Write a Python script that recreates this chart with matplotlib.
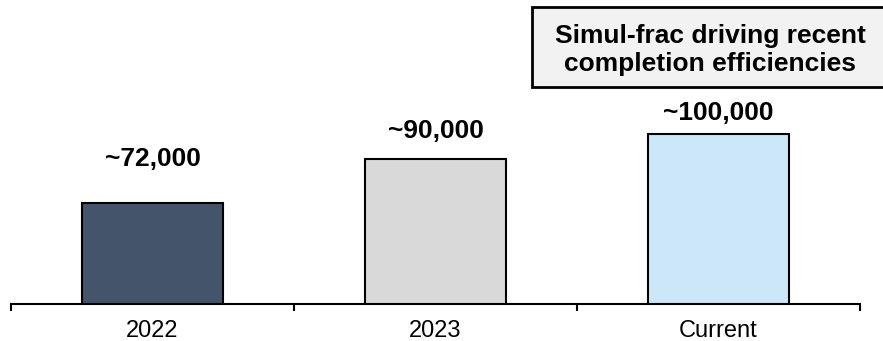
import numpy as np
import matplotlib
matplotlib.use("Agg")
from matplotlib import pyplot as plt
from matplotlib.patches import Rectangle

plt.rcParams['font.family'] = ['Liberation Sans', 'DejaVu Sans']

categories = ['2022', '2023', 'Current']
values = [72000, 90000, 100000]
labels = ['~72,000', '~90,000', '~100,000']
colors = ['#44546a', '#d9d9d9', '#cce8f8']
# label offsets above bar tops, in points
label_offsets = [31.5, 19.5, 15.0]
callout = 'Simul-frac driving recent\ncompletion efficiencies'

fig = plt.figure(figsize=(8.83, 3.41), dpi=100)
ax = fig.add_axes([11 / 883, 36.7 / 341, 849 / 883, 304.3 / 341])

x = np.arange(len(categories))
ax.bar(x, values, width=0.5, color=colors, edgecolor='black', linewidth=1.5, zorder=2)

for xi, v, lab, off in zip(x, values, labels, label_offsets):
    ax.annotate(lab, (xi, v), xytext=(0, off), textcoords='offset points',
                ha='center', va='center', fontsize=19, fontweight='bold')

ax.set_xlim(-0.5, len(categories) - 0.5)
ax.set_ylim(30600, 154600)
ax.set_xticks(x)
ax.set_xticklabels(categories, fontsize=17)
ax.set_xticks(np.arange(-0.5, len(categories)), minor=True)
ax.tick_params(axis='x', which='major', length=0, pad=11)
ax.tick_params(axis='x', which='minor', length=5, width=1.5)
ax.set_yticks([])
for s in ['top', 'right', 'left']:
    ax.spines[s].set_visible(False)
ax.spines['bottom'].set_linewidth(1.5)

# callout box at the upper right
fig.add_artist(Rectangle((532 / 883, 1 - 87 / 341), 360 / 883, 80 / 341,
                         transform=fig.transFigure, facecolor='#f2f2f2',
                         edgecolor='black', linewidth=2, clip_on=False))
fig.text(710 / 883, 1 - 50 / 341, callout, ha='center', va='center',
         fontsize=19, fontweight='bold', linespacing=1.25)

fig.savefig('out.png', dpi=100)
